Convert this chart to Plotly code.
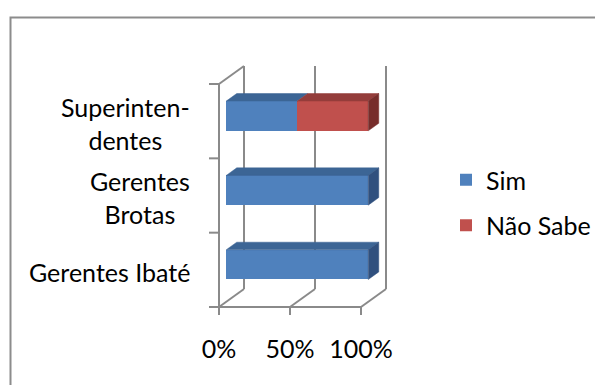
import plotly.graph_objects as go

# ---- data ----
categories = ["Gerentes Ibaté", "Gerentes Brotas", "Superintendentes"]
category_labels = ["Gerentes Ibaté", "Gerentes<br>Brotas", "Superinten-<br>dentes"]
sim = [1.0, 1.0, 0.5]
nao_sabe = [0.0, 0.0, 0.5]
x_ticks = [0.0, 0.5, 1.0]
x_tick_labels = ["0%", "50%", "100%"]

series = [("Sim", sim, "#4F81BD", "#3C6595", "#30507E"),
          ("Não Sabe", nao_sabe, "#C0504D", "#943D3B", "#772D2B")]

# ---- geometry (pixel based layout; page body has an 8px margin) ----
OFF = 8
W, H = 603, 385
ORIGIN_PX = (219 - OFF, 307 - OFF)
PX_PER_X = 142.0
PX_PER_Y = 74.33
DEPTH_PX = (25.0, 18.0)
PLOT_L, PLOT_R, PLOT_T, PLOT_B = 205 - OFF, 405 - OFF, 50 - OFF, 318 - OFF

def ddx(f):
    return f * DEPTH_PX[0] / PX_PER_X

def ddy(f):
    return f * DEPTH_PX[1] / PX_PER_Y

x_range = [(PLOT_L - ORIGIN_PX[0]) / PX_PER_X, (PLOT_R - ORIGIN_PX[0]) / PX_PER_X]
y_range = [(ORIGIN_PX[1] - PLOT_B) / PX_PER_Y, (ORIGIN_PX[1] - PLOT_T) / PX_PER_Y]

F0, F1 = 0.29, 0.71
BAR_H = 0.40
n = len(categories)
GRID = "#8A8A8A"
FONT = "Lato"
FS = 25

fig = go.Figure()

# front faces
cum = [0.0] * n
for name, vals, c_front, c_top, c_side in series:
    fig.add_trace(go.Bar(
        name=name, orientation="h",
        y=[i + 0.5 + ddy(F0) for i in range(n)],
        x=vals, base=[cum[i] + ddx(F0) for i in range(n)],
        width=BAR_H, marker=dict(color=c_front, line=dict(width=0)),
        legendgroup=name, hoverinfo="skip"))
    cum = [cum[i] + vals[i] for i in range(n)]

# top and side faces
cum = [0.0] * n
totals = [sum(s[1][i] for s in series) for i in range(n)]
for name, vals, c_front, c_top, c_side in series:
    for i in range(n):
        v = vals[i]
        if v <= 0:
            continue
        a, b = cum[i], cum[i] + v
        yc = i + 0.5 + ddy(F0)
        yt, yb = yc + BAR_H / 2, yc - BAR_H / 2
        d = ddy(F1) - ddy(F0)
        xs = [a + ddx(F0), b + ddx(F0), b + ddx(F1), a + ddx(F1), a + ddx(F0)]
        ys = [yt, yt, yt + d, yt + d, yt]
        fig.add_trace(go.Scatter(x=xs, y=ys, mode="lines", fill="toself",
                                 fillcolor=c_top, line=dict(color=c_top, width=0.5),
                                 showlegend=False, hoverinfo="skip"))
        if abs(b - totals[i]) < 1e-9:
            xs = [b + ddx(F0), b + ddx(F0), b + ddx(F1), b + ddx(F1), b + ddx(F0)]
            ys = [yb, yt, yt + d, yb + d, yb]
            fig.add_trace(go.Scatter(x=xs, y=ys, mode="lines", fill="toself",
                                     fillcolor=c_side, line=dict(color=c_side, width=0.5),
                                     showlegend=False, hoverinfo="skip"))
    cum = [cum[i] + vals[i] for i in range(n)]

# walls / axes as shapes under the bars
shapes = []
def seg(x0, y0, x1, y1):
    shapes.append(dict(type="line", xref="x", yref="y", x0=x0, y0=y0, x1=x1, y1=y1,
                       line=dict(color=GRID, width=2), layer="below"))

DX, DY = ddx(1), ddy(1)
for t in x_ticks:
    seg(t + DX, DY, t + DX, n + DY)          # back wall verticals
    seg(t, 0, t + DX, DY)                    # floor diagonals
    seg(t, 0, t, -8 / PX_PER_Y)              # tick marks
seg(0, n, DX, n + DY)                        # left wall top edge
seg(0, 0, 0, n)                              # front vertical axis
seg(0, 0, x_ticks[-1], 0)                    # front horizontal axis
for k in range(n + 1):
    seg(-10 / PX_PER_X, k, 0, k)             # category tick marks

# outer chart border
pw, ph = PLOT_R - PLOT_L, PLOT_B - PLOT_T
shapes.append(dict(type="rect", xref="paper", yref="paper",
                   x0=(10.5 - OFF - PLOT_L) / pw, x1=(640 - PLOT_L) / pw,
                   y0=(PLOT_B - 420) / ph, y1=(PLOT_B - (17.5 - OFF)) / ph,
                   line=dict(color="#8C8C8C", width=2), layer="below"))

annotations = []
for i, lab in enumerate(category_labels):
    annotations.append(dict(xref="x", yref="y", x=0, y=i + 0.5, text=lab,
                            xanchor="right", yanchor="middle", align="center",
                            xshift=-27, yshift=-2, showarrow=False,
                            font=dict(family=FONT, size=FS, color="#000000")))

fig.update_layout(
    width=W, height=H, autosize=False,
    margin=dict(l=PLOT_L, r=W - PLOT_R, t=PLOT_T, b=H - PLOT_B, pad=0),
    paper_bgcolor="white", plot_bgcolor="rgba(0,0,0,0)",
    barmode="overlay", bargap=0,
    shapes=shapes, annotations=annotations,
    font=dict(family=FONT, size=FS, color="#000000"),
    xaxis=dict(range=x_range, showgrid=False, zeroline=False, showline=False,
               tickvals=x_ticks, ticktext=x_tick_labels, ticks="",
               ticklabelstandoff=14, fixedrange=True),
    yaxis=dict(range=y_range, showgrid=False, zeroline=False, showline=False,
               showticklabels=False, ticks="", fixedrange=True),
    legend=dict(x=(446 - OFF - PLOT_L) / pw, xanchor="left",
                y=(PLOT_B - (157 - OFF)) / ph, yanchor="top",
                traceorder="grouped", tracegroupgap=10,
                font=dict(family=FONT, size=FS, color="#000000"),
                bgcolor="rgba(0,0,0,0)", borderwidth=0),
)

fig.write_html("out.html")
